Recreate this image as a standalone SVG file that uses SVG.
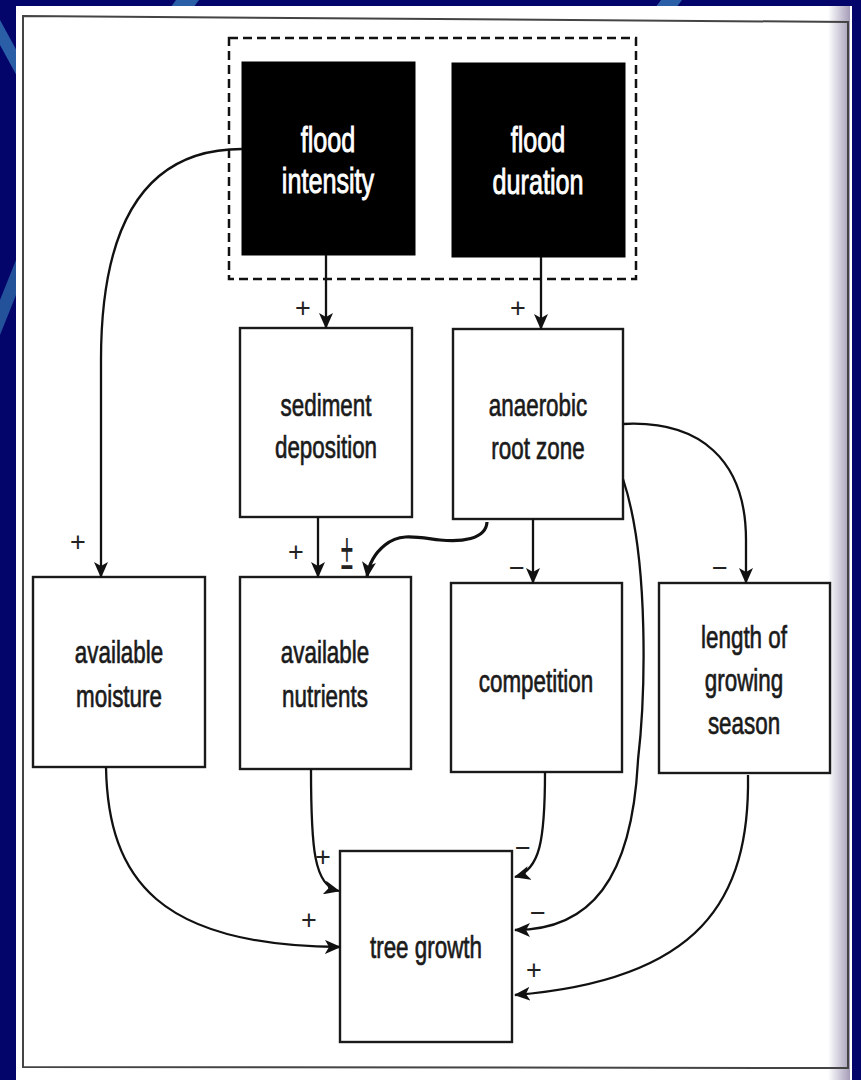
<svg xmlns="http://www.w3.org/2000/svg" width="861" height="1080" viewBox="0 0 861 1080">
<defs>
<linearGradient id="edge" x1="0" x2="1" y1="0" y2="0">
<stop offset="0" stop-color="#ffffff"/>
<stop offset="1" stop-color="#a59db8"/>
</linearGradient>
<marker id="ah" viewBox="0 0 16 14" refX="15" refY="7" markerWidth="16" markerHeight="14" markerUnits="userSpaceOnUse" orient="auto">
<path d="M0,0 L16,7 L0,14 L4,7 Z" fill="#111"/>
</marker>
</defs>
<style>
.box{fill:#fff;stroke:#1a1a1a;stroke-width:2.4}
.dark{fill:#000;stroke:#000;stroke-width:1}
.lbl{font-family:"Liberation Sans",Arial,sans-serif;font-size:32px;fill:#1a1a1a;stroke:#1a1a1a;stroke-width:0.7;text-anchor:middle}
.wlbl{font-family:"Liberation Sans",Arial,sans-serif;font-size:36px;fill:#fff;stroke:#fff;stroke-width:0.9;text-anchor:middle}
.sign{font-family:"Liberation Sans",Arial,sans-serif;font-size:27px;fill:#222;text-anchor:middle}
.c{fill:none;stroke:#111;stroke-width:2.3;marker-end:url(#ah)}
</style>

<!-- background -->
<rect x="0" y="0" width="861" height="1080" fill="#04056b"/>
<polygon points="0,20 0,45 30,100 30,75" fill="#2a5ea6"/>
<polygon points="0,300 0,335 24,275 24,240" fill="#23529a"/>
<polygon points="170,8 193,8 199,0 176,0" fill="#2a5ea6"/>
<polygon points="655,8 676,8 682,0 661,0" fill="#2a5ea6"/>

<!-- page -->
<rect x="16" y="6" width="836" height="1074" fill="#fff"/>
<rect x="828" y="6" width="22" height="1074" fill="url(#edge)"/>
<path d="M23,16 L848,22 L848,1068 L23,1067 Z" fill="none" stroke="#444" stroke-width="2"/>

<!-- dashed group -->
<rect x="229" y="38" width="407" height="241" fill="none" stroke="#111" stroke-width="2.5" stroke-dasharray="9 5"/>

<g id="flood-intensity">
<rect class="dark" x="242" y="62" width="173" height="193"/>
<g transform="translate(328,0) scale(0.7,1)">
<text class="wlbl" x="0" y="152">flood</text>
<text class="wlbl" x="0" y="193">intensity</text>
</g>
</g>

<g id="flood-duration">
<rect class="dark" x="452" y="63" width="173" height="194"/>
<g transform="translate(538,0) scale(0.7,1)">
<text class="wlbl" x="0" y="152">flood</text>
<text class="wlbl" x="0" y="194">duration</text>
</g>
</g>

<g id="sediment-deposition">
<rect class="box" x="240" y="328" width="172" height="189"/>
<g transform="translate(326,0) scale(0.7,1)">
<text class="lbl" x="0" y="416">sediment</text>
<text class="lbl" x="0" y="458">deposition</text>
</g>
</g>

<g id="anaerobic-root-zone">
<rect class="box" x="453" y="329" width="170" height="190"/>
<g transform="translate(538,0) scale(0.7,1)">
<text class="lbl" x="0" y="416">anaerobic</text>
<text class="lbl" x="0" y="459">root zone</text>
</g>
</g>

<g id="available-moisture">
<rect class="box" x="33" y="577" width="172" height="190"/>
<g transform="translate(119,0) scale(0.7,1)">
<text class="lbl" x="0" y="663">available</text>
<text class="lbl" x="0" y="707">moisture</text>
</g>
</g>

<g id="available-nutrients">
<rect class="box" x="240" y="577" width="171" height="192"/>
<g transform="translate(325,0) scale(0.7,1)">
<text class="lbl" x="0" y="663">available</text>
<text class="lbl" x="0" y="707">nutrients</text>
</g>
</g>

<g id="competition">
<rect class="box" x="451" y="583" width="171" height="189"/>
<g transform="translate(536,0) scale(0.7,1)">
<text class="lbl" x="0" y="692">competition</text>
</g>
</g>

<g id="length-of-growing-season">
<rect class="box" x="659" y="583" width="171" height="190"/>
<g transform="translate(744,0) scale(0.7,1)">
<text class="lbl" x="0" y="648">length of</text>
<text class="lbl" x="0" y="691">growing</text>
<text class="lbl" x="0" y="734">season</text>
</g>
</g>

<g id="tree-growth">
<rect class="box" x="340" y="851" width="172" height="191"/>
<g transform="translate(426,0) scale(0.7,1)">
<text class="lbl" x="0" y="958">tree growth</text>
</g>
</g>

<g id="connectors">
<path class="c" d="M242,149 C170,149 101,190 101,360 L101,577"/>
<path class="c" d="M326,255 L326,328"/>
<path class="c" d="M541,257 L541,329"/>
<path class="c" d="M318,517 L318,577"/>
<path class="c" style="stroke-width:3.2" d="M487,522 C486,540 460,542 440,540 C415,537 400,533 385,545 C375,553 369,562 367,577"/>
<path class="c" d="M533,519 L533,583"/>
<path class="c" d="M623,424 C700,420 746,460 746,540 L746,583"/>
<path class="c" d="M623,479 C650,560 645,700 638,760 C632,880 590,930 515,930"/>
<path class="c" d="M106,767 C108,880 160,946 340,947"/>
<path class="c" d="M311,769 C311,850 314,885 339,891"/>
<path class="c" d="M545,772 C545,840 540,870 515,877"/>
<path class="c" d="M748,775 C750,900 700,980 515,995"/>
</g>

<g id="signs">
<text class="sign" x="303" y="317">+</text>
<text class="sign" x="518" y="317">+</text>
<text class="sign" x="78" y="551">+</text>
<text class="sign" x="296" y="561">+</text>
<g transform="translate(347,569) scale(0.7,1.6)"><text class="sign" x="0" y="0" style="font-size:32px">±</text></g>
<text class="sign" x="517" y="577">−</text>
<text class="sign" x="720" y="577">−</text>
<text class="sign" x="323" y="866">+</text>
<text class="sign" x="309" y="929">+</text>
<text class="sign" x="523" y="857">−</text>
<text class="sign" x="538" y="922">−</text>
<text class="sign" x="534" y="979">+</text>
</g>
</svg>
